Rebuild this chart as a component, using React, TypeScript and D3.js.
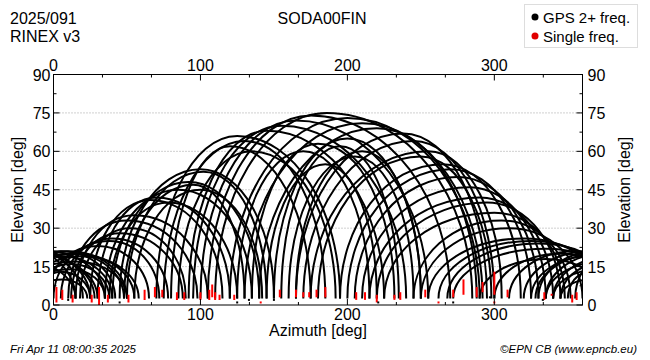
import React from 'react';
import * as d3 from 'd3';

// satellite passes: [azimuth start, azimuth of peak, peak elevation, azimuth end]
// azimuths may run past 360 or below 0, the pass is drawn wrapped round
const northPasses = [
	[300, 345, 20, 390], [310, 355, 21, 395], [320, 365, 21, 402], [328, 372, 20, 408],
	[290, 335, 18, 375], [335, 375, 17, 410], [340, 372, 14, 395], [345, 366, 10, 383],
	[-30, 10, 21, 50], [-25, 15, 20, 55], [-20, 20, 19, 58], [-35, 5, 19, 40],
	[-15, 12, 16, 38], [-10, 5, 13, 25]
];
const eastPasses = [
	[10, 50, 33, 98], [15, 55, 35, 105], [5, 40, 26, 78], [0, 38, 25, 72],
	[12, 45, 28, 88], [-5, 30, 23, 65], [18, 52, 30, 90],
	[45, 100, 53, 150], [50, 102, 52, 145], [40, 92, 48, 140], [48, 95, 47, 130],
	[35, 85, 45, 135], [30, 70, 42, 120], [25, 66, 41, 115], [38, 78, 40, 125],
	[55, 100, 45, 142],
	[70, 125, 66, 195], [75, 130, 64, 185], [80, 120, 62, 175], [85, 135, 60, 192]
];
const southPasses = [
	[110, 186, 75, 285], [105, 175, 74, 270], [120, 200, 73, 290], [100, 165, 72, 255],
	[130, 210, 71, 292], [95, 155, 70, 240], [140, 220, 69, 288], [92, 145, 68, 225],
	[150, 200, 65, 250], [155, 195, 62, 235], [135, 180, 63, 232], [160, 205, 58, 245],
	[125, 170, 60, 215], [145, 185, 55, 220], [165, 210, 60, 250]
];
const westPasses = [
	[175, 255, 60, 305], [170, 245, 64, 300], [165, 238, 67, 295], [180, 250, 58, 298],
	[225, 300, 36, 348], [215, 290, 42, 340], [210, 283, 46, 335], [205, 275, 50, 330],
	[200, 270, 53, 325], [220, 295, 40, 345], [195, 265, 55, 318],
	[255, 320, 26, 375], [262, 325, 25, 380], [250, 310, 30, 360], [268, 330, 24, 385],
	[245, 305, 33, 352], [272, 335, 22, 388]
];

// single frequency stubs at the low ends: [azimuth, low elevation, high elevation]
const singleFreq = [
	[2, 1, 7], [6, 2, 6], [13, 1, 4], [26, 1, 4], [31, 0, 7], [37, 1, 4], [51, 1, 4],
	[62, 2, 6], [69, 3, 7], [74, 3, 6], [84, 2, 5], [89, 2, 5], [100, 2, 5], [106, 2, 6],
	[108, 3, 8], [110, 2, 5], [113, 2, 4], [123, 2, 4], [154, 3, 6], [165, 3, 6],
	[170, 3, 5], [174, 3, 5], [179, 3, 6], [185, 3, 7], [206, 2, 5], [212, 2, 5],
	[220, 1, 4], [232, 2, 4], [236, 2, 5], [253, 3, 6], [272, 3, 6], [279, 4, 10],
	[288, 3, 7], [292, 5, 9], [300, 4, 13], [309, 3, 6], [334, 2, 5], [353, 1, 4], [356, 2, 5]
];

// loose observations near the horizon: [azimuth, elevation, single freq]
const looseDots = [
	[10, 2, 0], [45, 1, 0], [125, 1, 0], [133, 2, 0], [141, 1, 1], [150, 2, 0],
	[221, 1, 0], [262, 1, 1], [272, 1, 0], [297, 3, 0], [300, 1, 1], [333, 2, 0], [339, 4, 1]
];

const xTicks = [0, 100, 200, 300];
const xMinor = [33.33, 66.67, 133.33, 166.67, 233.33, 266.67, 333.33];
const yTicks = [0, 15, 30, 45, 60, 75, 90];
const yMinor = [7.5, 22.5, 37.5, 52.5, 67.5, 82.5];

const legendItems = [
	{ label: "GPS 2+ freq.", color: "#000" },
	{ label: "Single freq.", color: "#e00000" }
];

const W = 650;
const H = 360;
const left = 53.5;
const right = 582.5;
const top = 74.5;
const bottom = 305;
const base = 2.5;
const font = "'Liberation Sans', Arial, Helvetica, sans-serif";

const x = d3.scaleLinear().domain([0, 360]).range([left, right]);
const y = d3.scaleLinear().domain([0, 90]).range([bottom, top]);

// a pass as two quarter ellipses meeting at the peak
const passPath = (pass, shift) => {
	const [a0, ap, e, a1] = pass;
	const k = 0.5523;
	const x0 = x(a0 + shift), xp = x(ap + shift), x1 = x(a1 + shift);
	const yb = y(base), yt = y(e);
	const p = d3.path();
	p.moveTo(x0, yb);
	p.bezierCurveTo(x0, yb - k * (yb - yt), xp - k * (xp - x0), yt, xp, yt);
	p.bezierCurveTo(xp + k * (x1 - xp), yt, x1, yb - k * (yb - yt), x1, yb);
	return p.toString();
};

const allPasses = [...northPasses, ...eastPasses, ...southPasses, ...westPasses];

export default function App() {
	return (
		<svg width={W} height={H} style={{ position: 'absolute', left: 0, top: 0, background: '#fff' }}
			fontFamily={font}>
			<defs>
				<clipPath id="plot">
					<rect x={left} y={top} width={right - left} height={bottom - top} />
				</clipPath>
			</defs>

			{/* grid */}
			<g>
				{yTicks.filter(t => t > 0 && t < 90).map(t => (
					<line key={t} x1={left} x2={right} y1={y(t)} y2={y(t)}
						stroke="#a0a0a0" strokeWidth={1} strokeDasharray="1,2" />
				))}
			</g>

			{/* passes */}
			<g clipPath="url(#plot)" fill="none" stroke="#000" strokeWidth={2}>
				{allPasses.map((pass, i) => [-360, 0, 360]
					.filter(s => pass[3] + s > 0 && pass[0] + s < 360)
					.map(s => <path key={`${i}_${s}`} d={passPath(pass, s)} />))}
			</g>
			<g clipPath="url(#plot)">
				{singleFreq.map(([az, lo, hi], i) => (
					<line key={i} x1={x(az)} x2={x(az)} y1={y(lo)} y2={y(hi)}
						stroke="#ff0000" strokeWidth={2} />
				))}
				{looseDots.map(([az, el, single], i) => (
					<rect key={i} x={x(az) - 1} y={y(el) - 1} width={2} height={2}
						fill={single ? "#ff0000" : "#000"} />
				))}
			</g>

			{/* frame and ticks */}
			<rect x={left} y={top} width={right - left} height={bottom - top}
				fill="none" stroke="#000" strokeWidth={1} />
			<g stroke="#000" strokeWidth={1}>
				{xTicks.map(t => (
					<g key={t}>
						<line x1={x(t)} x2={x(t)} y1={bottom} y2={bottom - 6} />
						<line x1={x(t)} x2={x(t)} y1={top} y2={top + 6} />
					</g>
				))}
				{xMinor.map(t => (
					<g key={t}>
						<line x1={x(t)} x2={x(t)} y1={bottom} y2={bottom - 3} />
						<line x1={x(t)} x2={x(t)} y1={top} y2={top + 3} />
					</g>
				))}
				{yTicks.map(t => (
					<g key={t}>
						<line x1={left} x2={left + 6} y1={y(t)} y2={y(t)} />
						<line x1={right} x2={right - 6} y1={y(t)} y2={y(t)} />
					</g>
				))}
				{yMinor.map(t => (
					<g key={t}>
						<line x1={left} x2={left + 3} y1={y(t)} y2={y(t)} />
						<line x1={right} x2={right - 3} y1={y(t)} y2={y(t)} />
					</g>
				))}
			</g>

			{/* tick labels */}
			<g fontSize={16} fill="#000">
				{xTicks.map(t => (
					<g key={t}>
						<text x={x(t)} y={top - 4} textAnchor="middle">{t}</text>
						<text x={x(t)} y={bottom + 15} textAnchor="middle">{t}</text>
					</g>
				))}
				{yTicks.map(t => (
					<g key={t}>
						<text x={left - 3} y={y(t) + 6} textAnchor="end">{t}</text>
						<text x={right + 5} y={y(t) + 6} textAnchor="start">{t}</text>
					</g>
				))}
			</g>

			{/* axis titles */}
			<g fontSize={16} fill="#000">
				<text x={(left + right) / 2} y={bottom + 31} textAnchor="middle">Azimuth [deg]</text>
				<text transform={`translate(23,${(top + bottom) / 2})rotate(-90)`} textAnchor="middle">Elevation [deg]</text>
				<text transform={`translate(630,${(top + bottom) / 2})rotate(-90)`} textAnchor="middle">Elevation [deg]</text>
			</g>

			{/* headers */}
			<g fontSize={16} fill="#000">
				<text x={10} y={24}>2025/091</text>
				<text x={10} y={42}>RINEX v3</text>
				<text x={322} y={24} textAnchor="middle">SODA00FIN</text>
			</g>

			{/* legend */}
			<g>
				<rect x={524.5} y={4.5} width={113} height={43} fill="#fff" stroke="#ddd" />
				{legendItems.map((item, i) => (
					<g key={item.label} transform={`translate(535,${17 + i * 19})`}>
						<circle r={3.5} fill={item.color} />
						<text x={8} y={5.5} fontSize={15}>{item.label}</text>
					</g>
				))}
			</g>

			{/* footer */}
			<g fontSize={11.5} fontStyle="italic" fill="#000">
				<text x={10} y={353}>Fri Apr 11 08:00:35 2025</text>
				<text x={637} y={353} textAnchor="end">©EPN CB (www.epncb.eu)</text>
			</g>
		</svg>
	);
}
